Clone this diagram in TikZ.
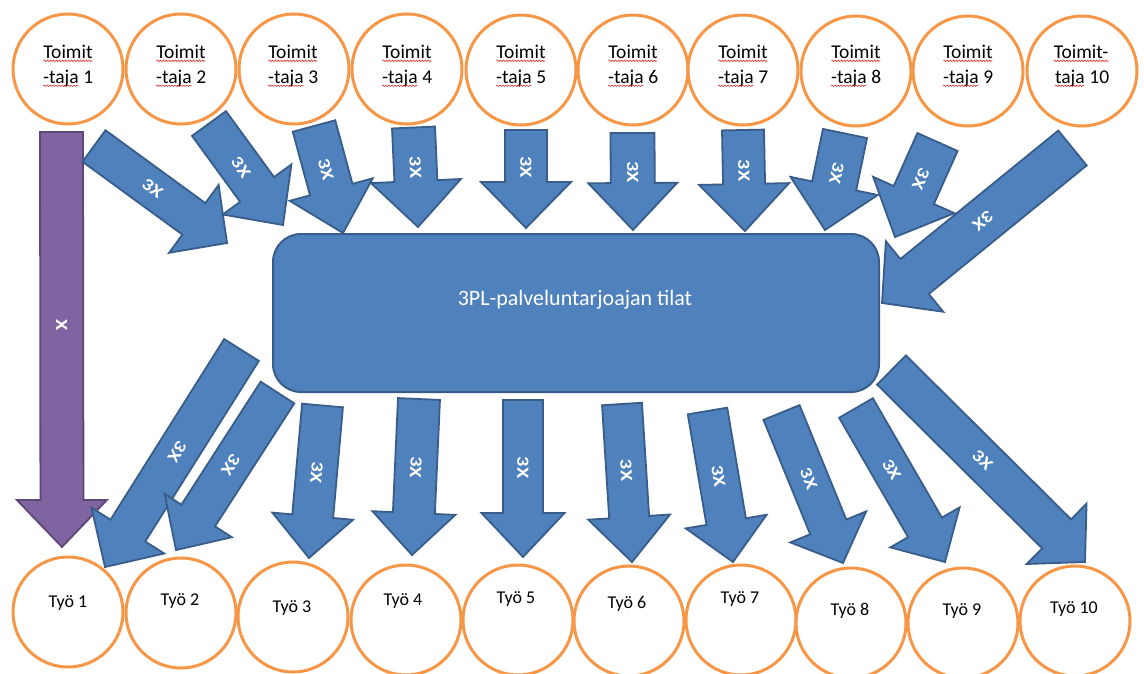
\documentclass[tikz,border=0pt]{standalone}
\usepackage{fontspec}
\setmainfont{Carlito}
\newfontfamily\tagfont[FakeStretch=1.2]{Carlito}
\usetikzlibrary{calc,decorations.pathmorphing}

\definecolor{flowfill}{HTML}{4F81BD}
\definecolor{flowline}{HTML}{385D8A}
\definecolor{directfill}{HTML}{8064A2}
\definecolor{directline}{HTML}{5C4776}
\definecolor{ringline}{HTML}{F79646}
\definecolor{wavered}{HTML}{E03030}

\tikzset{
  site/.style={circle, draw=ringline, line width=3pt, fill=white, minimum size=110pt, inner sep=0pt},
  sitename/.style={anchor=base, inner sep=0pt, font=\fontsize{19.5}{22}\selectfont},
  workname/.style={anchor=base, inner sep=0pt, font=\fontsize{18}{20}\selectfont},
  hubbox/.style={draw=flowline, line width=2pt, fill=flowfill, rounded corners=28pt,
                 minimum width=606pt, minimum height=158pt, inner sep=0pt},
  flow/.style={draw=flowline, line width=1.8pt, fill=flowfill, line join=miter},
  direct/.style={draw=directline, line width=1.8pt, fill=directfill, line join=miter},
  flowtag/.style={sloped, allow upside down, text=white, inner sep=0pt,
                  font=\tagfont\bfseries\fontsize{17}{17}\selectfont},
  wave/.style={draw=wavered, line width=0.6pt, decorate,
               decoration={snake, amplitude=0.75pt, segment length=3pt}},
}

% word with a red wavy underline
\newcommand\misspelt[1]{\tikz[baseline=(ms.base)]{\node[inner sep=0pt, outer sep=0pt] (ms) {#1};
  \draw[wave] ([yshift=-2.8pt]ms.base west) -- ([yshift=-2.8pt]ms.base east);}}

% block arrow: [style]{tail}{tip}{shaft width}{head width}{head length}{label pos}{label}
\newcommand\blockarrow[8][flow]{%
  \coordinate (neck) at ($(#3)!#6pt!(#2)$);
  \draw[#1] ($(#2)!0.5*#4pt!90:(#3)$)
    -- ($(neck)!0.5*#4pt!-90:(#2)$)
    -- ($(neck)!0.5*#5pt!-90:(#2)$)
    -- (#3)
    -- ($(neck)!0.5*#5pt!90:(#2)$)
    -- ($(neck)!0.5*#4pt!90:(#2)$)
    -- ($(#2)!0.5*#4pt!-90:(#3)$) -- cycle;
  \path (#2) -- (#3) node[flowtag, pos=#7] (#2tag) {#8};
}

\begin{document}
\begin{tikzpicture}[x=1pt, y=-1pt]
\useasboundingbox (0,0) rectangle (1144,673);
\fill[white] (0,0) rectangle (1144,673);
\begin{scope}
\clip (0,0) rectangle (1144,673);

% suppliers
\foreach \i/\x/\y in {1/68/69, 2/181/69, 3/294/69, 4/407/69, 5/521/70,
                      6/633/70, 7/743/70, 8/856/71, 9/968/71, 10/1082/71}
  \node[site] (s\i) at (\x,\y) {};
\foreach \i/\x in {1/68, 2/181, 3/293, 4/407, 5/521, 6/633, 7/743, 8/856, 9/968} {
  \node[sitename] (s\i a) at (\x,58) {\misspelt{Toimit}};
  \node[sitename] (s\i b) at (\x,83) {\misspelt{-taja} \i};
}
\node[sitename] (s10a) at (1081,58) {\misspelt{Toimit-}};
\node[sitename] (s10b) at (1082,83) {\misspelt{taja} 10};

% work sites
\foreach \i/\x/\y/\tx/\ty in {1/68/612/68/607, 2/181/613/180/605, 3/293/617/292/612,
                              4/406/620/403/605, 5/518/620/516/603, 6/629/621/627/608,
                              7/741/620/740/603, 8/851/623/850/615, 9/963/623/962/615,
                              10/1075/621/1074/613} {
  \node[site] (w\i) at (\x,\y) {};
  \node[workname] (w\i n) at (\tx,\ty) {Työ \i};
}

% logistics facility
\node[hubbox] (hub) at (576,313) {};
\node[text=white, inner sep=0pt, font=\fontsize{22}{22}\selectfont] (hubname)
  at (575,300) {3PL-palveluntarjoajan tilat};

% direct delivery
\coordinate (d0t) at (61.5,132);  \coordinate (d0p) at (62,547);
\blockarrow[direct]{d0t}{d0p}{43}{90}{47}{0.465}{X}

% inbound flows
\coordinate (a1t) at (94,146);      \coordinate (a1p) at (227,243);
\coordinate (a2t) at (209,123.5);   \coordinate (a2p) at (283,225);
\coordinate (a3t) at (314,126);     \coordinate (a3p) at (343,233);
\coordinate (a4t) at (413.5,127.5); \coordinate (a4p) at (418,227);
\coordinate (a5t) at (526,130);     \coordinate (a5p) at (526,228);
\coordinate (a6t) at (632.5,133);   \coordinate (a6p) at (633,230);
\coordinate (a7t) at (743,130);     \coordinate (a7p) at (745,231);
\coordinate (a8t) at (845,133.5);   \coordinate (a8p) at (825,230);
\coordinate (a9t) at (937.5,142);   \coordinate (a9p) at (895,237);
\coordinate (a10t) at (1072.5,148); \coordinate (a10p) at (882,303);
\blockarrow{a1t}{a1p}{39}{84}{41}{0.44}{3X}
\blockarrow{a2t}{a2p}{42}{85}{44}{0.43}{3X}
\blockarrow{a3t}{a3p}{44}{86}{45}{0.41}{3X}
\blockarrow{a4t}{a4p}{43}{90}{46}{0.40}{3X}
\blockarrow{a5t}{a5p}{42}{90}{46}{0.38}{3X}
\blockarrow{a6t}{a6p}{44}{89}{47}{0.40}{3X}
\blockarrow{a7t}{a7p}{42}{90}{47}{0.40}{3X}
\blockarrow{a8t}{a8p}{45}{89}{45}{0.41}{3X}
\blockarrow{a9t}{a9p}{44}{89}{46}{0.39}{3X}
\blockarrow{a10t}{a10p}{45}{91}{42}{0.47}{3X}

% outbound flows
\coordinate (b1t) at (241.5,350);   \coordinate (b1p) at (105,567);
\coordinate (b2t) at (277.5,392.5); \coordinate (b2p) at (176,550);
\coordinate (b3t) at (322.5,405.5); \coordinate (b3p) at (309,558);
\coordinate (b4t) at (419,399);     \coordinate (b4p) at (412,555);
\coordinate (b5t) at (523,400);     \coordinate (b5p) at (523,557);
\coordinate (b6t) at (622,404);     \coordinate (b6p) at (632,562);
\coordinate (b7t) at (707.5,411);   \coordinate (b7p) at (733,562);
\coordinate (b8t) at (781.5,412.5); \coordinate (b8p) at (843,563);
\coordinate (b9t) at (856,408);     \coordinate (b9p) at (945,562);
\coordinate (b10t) at (891.5,370);  \coordinate (b10p) at (1085,562);
\blockarrow{b1t}{b1p}{41}{86}{43}{0.47}{3X}
\blockarrow{b2t}{b2p}{40}{80}{41}{0.46}{3X}
\blockarrow{b3t}{b3p}{41}{81}{42}{0.44}{3X}
\blockarrow{b4t}{b4p}{42}{83}{42}{0.44}{3X}
\blockarrow{b5t}{b5p}{40}{83}{44}{0.43}{3X}
\blockarrow{b6t}{b6p}{40}{82}{45}{0.42}{3X}
\blockarrow{b7t}{b7p}{40}{82}{41}{0.43}{3X}
\blockarrow{b8t}{b8p}{39}{82}{39}{0.44}{3X}
\blockarrow{b9t}{b9p}{39}{80}{40}{0.40}{3X}
\blockarrow{b10t}{b10p}{41}{85}{40}{0.47}{3X}
\end{scope}
\end{tikzpicture}
\end{document}
